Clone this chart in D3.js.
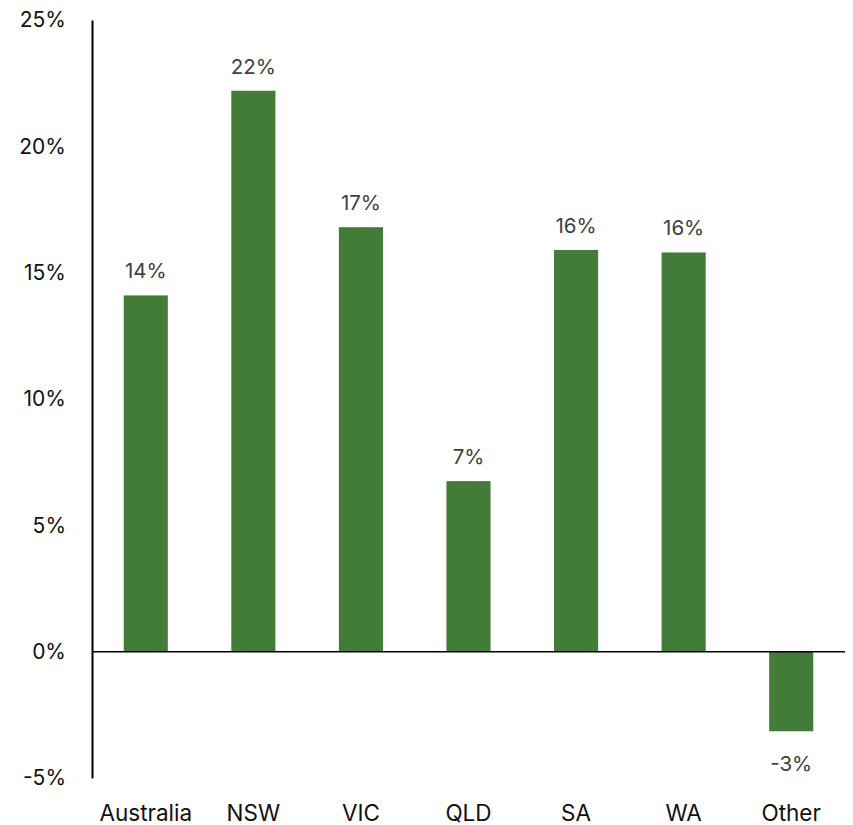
<!DOCTYPE html>
<html>
<head>
<meta charset="utf-8">
<script src="https://cdn.jsdelivr.net/npm/d3@7"></script>
<style>
  html, body { margin: 0; padding: 0; background: #fff; }
  svg { display: block; font-family: Inter, "Noto Sans", sans-serif; }
</style>
</head>
<body>
<svg id="chart" width="853" height="825"></svg>
<script>
// Growth by region, percent
const categories = ["Australia", "NSW", "VIC", "QLD", "SA", "WA", "Other"];
const values = [14.1, 22.2, 16.8, 6.75, 15.9, 15.8, -3.15];
const yTicks = [-5, 0, 5, 10, 15, 20, 25];

const svg = d3.select("#chart");
const axisX = 92;

const x = d3.scaleBand()
  .domain(categories)
  .range([axisX, 845])
  .paddingInner(0.59)
  .paddingOuter(0.295);

const y = d3.scaleLinear()
  .domain([-5, 25])
  .range([778, 20]);

// rounded percent with a plain hyphen for negatives
const pct = v => Math.round(v) + "%";

// bars
svg.append("g")
  .selectAll("rect")
  .data(categories)
  .join("rect")
  .attr("x", d => x(d))
  .attr("width", x.bandwidth())
  .attr("y", (d, i) => y(Math.max(0, values[i])))
  .attr("height", (d, i) => Math.abs(y(values[i]) - y(0)))
  .attr("fill", "#437c39");

// value labels
svg.append("g")
  .selectAll("text")
  .data(categories)
  .join("text")
  .attr("x", d => x(d) + x.bandwidth() / 2)
  .attr("y", (d, i) => values[i] >= 0 ? y(values[i]) - 17 : y(values[i]) + 40)
  .attr("text-anchor", "middle")
  .attr("font-size", 20.5)
  .attr("fill", "#404040")
  .text((d, i) => pct(values[i]));

// y axis
const yAxis = d3.axisLeft(y)
  .tickValues(yTicks)
  .tickSize(0)
  .tickPadding(26)
  .tickFormat(d => d + "%");

const gy = svg.append("g")
  .attr("transform", `translate(${axisX},0)`)
  .call(yAxis);
gy.select(".domain").attr("stroke", "#000").attr("stroke-width", 2);
gy.selectAll("text")
  .attr("font-size", 21)
  .attr("font-family", "Inter, 'Noto Sans', sans-serif")
  .attr("fill", "#111");

// zero line
svg.append("line")
  .attr("x1", axisX)
  .attr("x2", 845)
  .attr("y1", y(0))
  .attr("y2", y(0))
  .attr("stroke", "#000")
  .attr("stroke-width", 1.5);

// category labels
svg.append("g")
  .selectAll("text")
  .data(categories)
  .join("text")
  .attr("x", d => x(d) + x.bandwidth() / 2)
  .attr("y", 821)
  .attr("text-anchor", "middle")
  .attr("font-size", 22.5)
  .attr("fill", "#111")
  .text(d => d);
</script>
</body>
</html>
